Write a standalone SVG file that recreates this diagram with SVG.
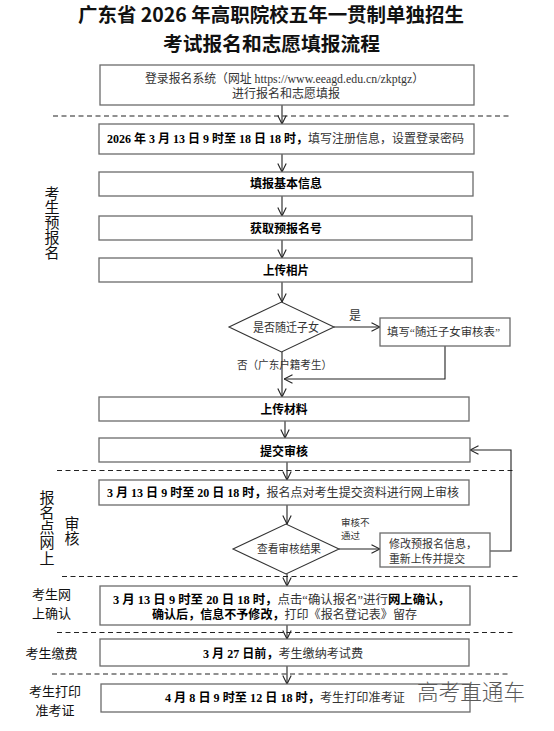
<svg xmlns="http://www.w3.org/2000/svg" width="554" height="731" viewBox="0 0 554 731">
<defs>
<style>
.box{fill:#fff;stroke:#6b6b6b;stroke-width:1.3}
.dia{fill:#fff;stroke:#333;stroke-width:1.1}
.t{font-family:"Liberation Serif","Noto Sans CJK SC",serif;font-size:12px;fill:#333}
.tc{text-anchor:middle}
.b{font-weight:bold;fill:#000}
.sm{font-size:11px}
.xs{font-size:9.5px}
.title{font-family:"Noto Sans CJK SC","Liberation Sans",sans-serif;font-size:19.5px;font-weight:bold;fill:#111;text-anchor:middle}
.vlab{font-family:"Noto Sans CJK SC","Liberation Sans",sans-serif;font-size:15px;fill:#111;writing-mode:vertical-rl}
.lab2{font-family:"Noto Sans CJK SC","Liberation Sans",sans-serif;font-size:13px;fill:#111;text-anchor:middle}
.dash{stroke:#222;stroke-width:1.2;stroke-dasharray:5 3.5;fill:none}
.con{stroke:#222;stroke-width:1.1;fill:none;marker-end:url(#arr)}
.wm{font-family:"Noto Sans CJK SC","Liberation Sans",sans-serif;font-size:22px;fill:#5a5a5a;font-weight:300}
</style>
<marker id="arr" viewBox="0 0 10 10" refX="9.5" refY="5" markerWidth="10" markerHeight="10" markerUnits="userSpaceOnUse" orient="auto">
<path d="M1,0.8 L9.5,5 L1,9.2" fill="none" stroke="#222" stroke-width="1.1"/>
</marker>
</defs>
<rect width="554" height="731" fill="#fff"/>

<g id="title">
<text class="title" x="271" y="21.5" textLength="386" lengthAdjust="spacingAndGlyphs">广东省 2026 年高职院校五年一贯制单独招生</text>
<text class="title" x="271.5" y="50.6" textLength="217" lengthAdjust="spacingAndGlyphs">考试报名和志愿填报流程</text>
</g>

<g id="dividers">
<line class="dash" x1="53" y1="116" x2="512" y2="116"/>
<line class="dash" x1="57" y1="470.5" x2="516" y2="470.5"/>
<line class="dash" x1="62" y1="576.5" x2="520" y2="576.5"/>
<line class="dash" x1="57" y1="632.5" x2="515" y2="632.5"/>
<line class="dash" x1="52" y1="674" x2="510" y2="674"/>
</g>

<g id="stage-labels">
<text class="vlab" x="52" y="185.5" style="letter-spacing:-0.3px">考生预报名</text>
<text class="vlab" x="47" y="489.5" style="letter-spacing:0.25px">报名点网上</text>
<text class="vlab" x="72" y="515.5">审核</text>
<text class="lab2" x="51.5" y="599.4">考生网</text>
<text class="lab2" x="51.5" y="617.9">上确认</text>
<text class="lab2" x="51.5" y="657.9">考生缴费</text>
<text class="lab2" x="55" y="696.4">考生打印</text>
<text class="lab2" x="55" y="714.9">准考证</text>
</g>

<g id="connectors">
<line class="con" x1="282" y1="105" x2="282" y2="124"/>
<line class="con" x1="282" y1="154" x2="282" y2="172"/>
<line class="con" x1="282" y1="196" x2="282" y2="216"/>
<line class="con" x1="282" y1="240" x2="282" y2="258"/>
<line class="con" x1="282" y1="282" x2="282" y2="302"/>
<line class="con" x1="334" y1="327" x2="380" y2="327"/>
<polyline class="con" points="445,346 445,379 284,379"/>
<line class="con" x1="282" y1="352" x2="282" y2="397"/>
<line class="con" x1="285" y1="421" x2="285" y2="438"/>
<line class="con" x1="287" y1="462" x2="287" y2="480"/>
<line class="con" x1="287" y1="505" x2="287" y2="524"/>
<line class="con" x1="339" y1="549" x2="380" y2="549"/>
<polyline class="con" points="490,551 511,551 511,450 470,450"/>
<line class="con" x1="287" y1="574" x2="287" y2="586"/>
<line class="con" x1="287" y1="625" x2="287" y2="639"/>
<line class="con" x1="287" y1="666" x2="287" y2="684"/>
</g>

<g id="n-login">
<rect class="box" x="100" y="65" width="374" height="40"/>
<text class="t tc" x="284.5" y="82.5" textLength="279" lengthAdjust="spacingAndGlyphs">登录报名系统（网址 https://www.eeagd.edu.cn/zkptgz）</text>
<text class="t tc" x="286" y="97.5" textLength="108" lengthAdjust="spacingAndGlyphs">进行报名和志愿填报</text>
</g>

<g id="n-register">
<rect class="box" x="99" y="124" width="375" height="30"/>
<text class="t" x="107" y="142.5" textLength="357" lengthAdjust="spacingAndGlyphs"><tspan class="b">2026 年 3 月 13 日 9 时至 18 日 18 时，</tspan><tspan>填写注册信息，设置登录密码</tspan></text>
</g>

<g id="n-basic">
<rect class="box" x="99" y="172" width="374" height="24"/>
<text class="t tc b" x="286" y="188" textLength="72" lengthAdjust="spacingAndGlyphs">填报基本信息</text>
</g>

<g id="n-number">
<rect class="box" x="99" y="216" width="373" height="24"/>
<text class="t tc b" x="286" y="232.5" textLength="72" lengthAdjust="spacingAndGlyphs">获取预报名号</text>
</g>

<g id="n-photo">
<rect class="box" x="99" y="258" width="373" height="24"/>
<text class="t tc b" x="286" y="274.5" textLength="46" lengthAdjust="spacingAndGlyphs">上传相片</text>
</g>

<g id="n-migrant-q">
<polygon class="dia" points="229,327 281.5,302 334,327 281.5,352"/>
<text class="t tc" x="286" y="331.5" textLength="66" lengthAdjust="spacingAndGlyphs">是否随迁子女</text>
<text class="t tc" x="355" y="319.5">是</text>
<text class="t tc sm" x="284.5" y="369" textLength="95" lengthAdjust="spacingAndGlyphs">否（广东户籍考生）</text>
</g>

<g id="n-migrant-form">
<rect class="box" x="380" y="318" width="130" height="28"/>
<text class="t tc sm" x="443.5" y="335.5" textLength="113" lengthAdjust="spacingAndGlyphs">填写“随迁子女审核表”</text>
</g>

<g id="n-material">
<rect class="box" x="99" y="397" width="370" height="24"/>
<text class="t tc b" x="284" y="413.5" textLength="47" lengthAdjust="spacingAndGlyphs">上传材料</text>
</g>

<g id="n-submit">
<rect class="box" x="99" y="438" width="371" height="24"/>
<text class="t tc b" x="284" y="455.5" textLength="48" lengthAdjust="spacingAndGlyphs">提交审核</text>
</g>

<g id="n-review">
<rect class="box" x="99" y="480" width="370" height="25"/>
<text class="t" x="107" y="496.5" textLength="352" lengthAdjust="spacingAndGlyphs"><tspan class="b">3 月 13 日 9 时至 20 日 18 时，</tspan><tspan>报名点对考生提交资料进行网上审核</tspan></text>
</g>

<g id="n-result-q">
<polygon class="dia" points="233,549 286,524 339,549 286,574"/>
<text class="t tc sm" x="289" y="553.2" textLength="64" lengthAdjust="spacingAndGlyphs">查看审核结果</text>
<text class="t xs" x="341" y="525.5">审核不</text>
<text class="t xs" x="341" y="538.5">通过</text>
</g>

<g id="n-modify">
<rect class="box" x="380" y="533" width="110" height="34"/>
<text class="t sm" x="389" y="548" textLength="88" lengthAdjust="spacingAndGlyphs">修改预报名信息，</text>
<text class="t sm" x="389" y="563" textLength="76" lengthAdjust="spacingAndGlyphs">重新上传并提交</text>
</g>

<g id="n-confirm">
<rect class="box" x="100" y="586" width="370" height="39"/>
<text class="t" x="113" y="603.5" textLength="337" lengthAdjust="spacingAndGlyphs"><tspan class="b">3 月 13 日 9 时至 20 日 18 时，</tspan><tspan>点击“确认报名”进行</tspan><tspan class="b">网上确认，</tspan></text>
<text class="t" x="152" y="618.5" textLength="265" lengthAdjust="spacingAndGlyphs"><tspan class="b">确认后，信息不予修改，</tspan><tspan>打印《报名登记表》留存</tspan></text>
</g>

<g id="n-fee">
<rect class="box" x="100" y="639" width="369" height="27"/>
<text class="t" x="203" y="657.5" textLength="160" lengthAdjust="spacingAndGlyphs"><tspan class="b">3 月 27 日前，</tspan><tspan>考生缴纳考试费</tspan></text>
</g>

<g id="n-ticket">
<rect class="box" x="101" y="684" width="369" height="28"/>
<text class="t" x="165" y="701.5" textLength="240" lengthAdjust="spacingAndGlyphs"><tspan class="b">4 月 8 日 9 时至 12 日 18 时，</tspan><tspan>考生打印准考证</tspan></text>
</g>

<g id="watermark">
<text class="wm" x="417" y="700" textLength="108" lengthAdjust="spacingAndGlyphs">高考直通车</text>
</g>
</svg>
